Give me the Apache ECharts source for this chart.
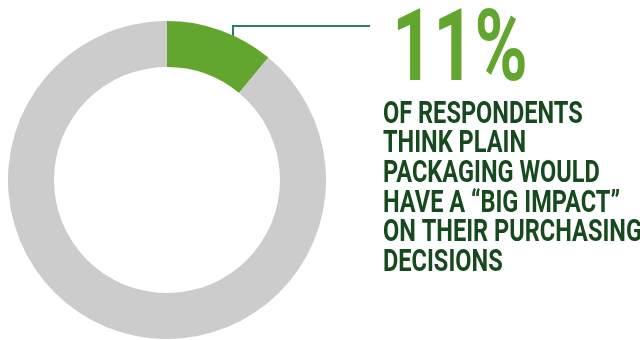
<!DOCTYPE html>
<html>
<head>
<meta charset="utf-8">
<script src="https://cdn.jsdelivr.net/npm/echarts@6/dist/echarts.min.js"></script>
<style>
  html, body { margin: 0; padding: 0; background: #fff; }
  #chart { width: 640px; height: 340px; }
</style>
</head>
<body>
<div id="chart"></div>
<script>
  // share of respondents
  var sliceNames = ['Big impact', 'Other'];
  var sliceValues = [11, 89];
  var sliceColors = ['#63a62f', '#cccccc'];
  var headline = '11%';
  var captionLines = [
    'OF RESPONDENTS',
    'THINK PLAIN',
    'PACKAGING WOULD',
    'HAVE A \u201cBIG IMPACT\u201d',
    'ON THEIR PURCHASING',
    'DECISIONS'
  ];

  var chart = echarts.init(document.getElementById('chart'));

  var graphics = [
    {
      type: 'polyline',
      silent: true,
      shape: { points: [[233, 51], [233, 26], [370, 26]] },
      style: { stroke: '#2b7a6b', lineWidth: 2, fill: null }
    },
    {
      type: 'text',
      x: 392, y: 55,
      scaleX: 0.72,
      style: {
        text: headline,
        font: 'bold 100px Roboto',
        fill: '#63a62f',
        textAlign: 'left',
        textVerticalAlign: 'middle'
      }
    }
  ];
  captionLines.forEach(function (line, i) {
    graphics.push({
      type: 'text',
      x: 383, y: 115 + i * 29.6,
      scaleX: 0.76,
      style: {
        text: line,
        font: 'bold 31px Roboto',
        fill: '#16491d',
        textAlign: 'left',
        textVerticalAlign: 'middle'
      }
    });
  });

  chart.setOption({
    animation: false,
    series: [{
      type: 'pie',
      silent: true,
      center: [167, 180],
      radius: [113, 159],
      startAngle: 90,
      clockwise: true,
      label: { show: false },
      labelLine: { show: false },
      itemStyle: { borderWidth: 0 },
      data: sliceValues.map(function (v, i) {
        return { name: sliceNames[i], value: v, itemStyle: { color: sliceColors[i] } };
      })
    }],
    graphic: graphics
  });
</script>
</body>
</html>
